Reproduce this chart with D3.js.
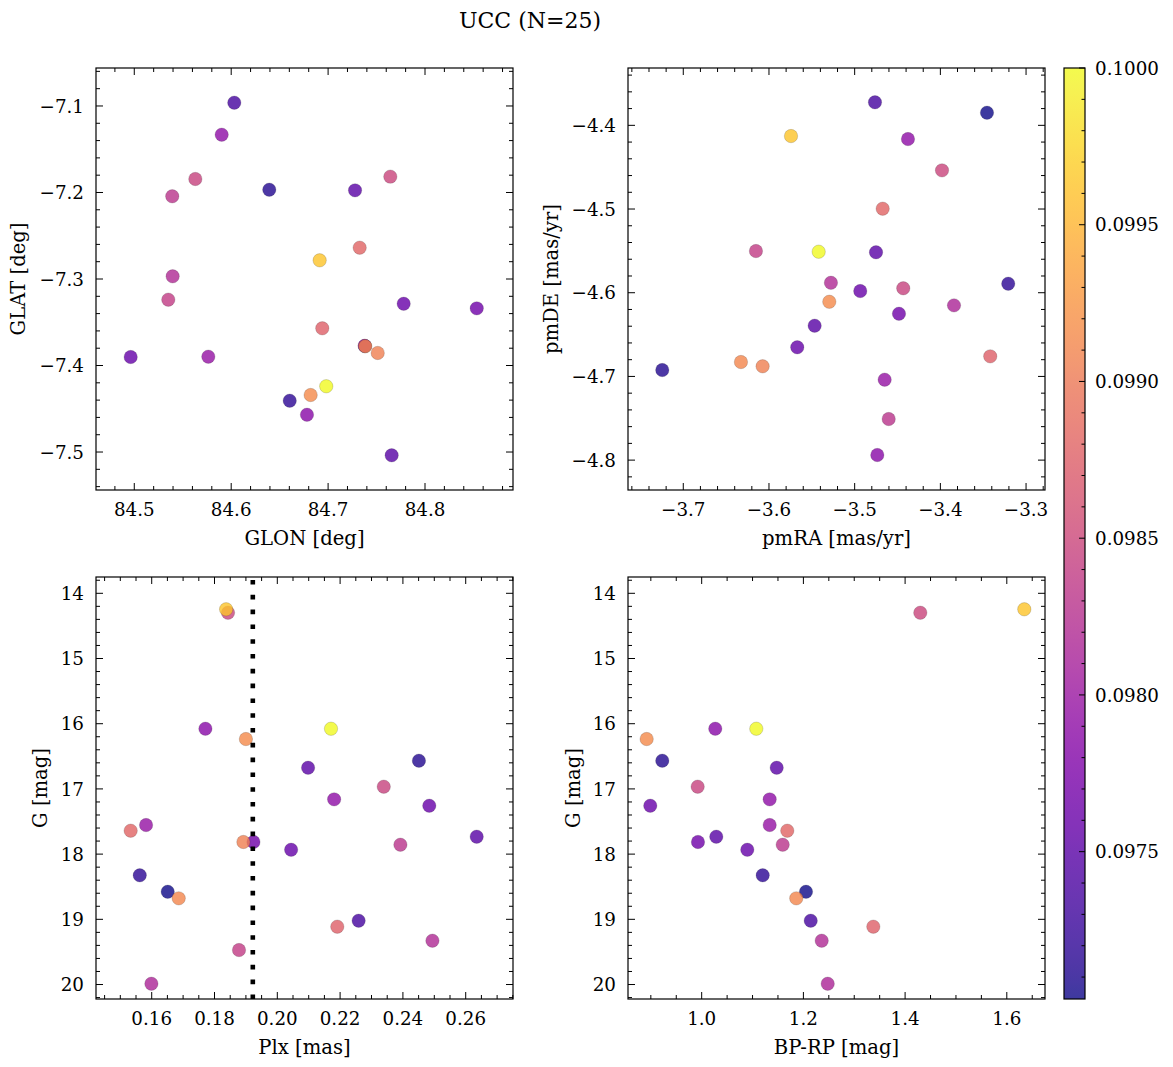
<!DOCTYPE html>
<html>
<head>
<meta charset="utf-8">
<script src="https://cdn.jsdelivr.net/npm/d3@7"></script>
<style>
  html, body { margin: 0; padding: 0; background: #fff; }
  svg { display: block; }
  text { font-family: "DejaVu Serif", serif; fill: #000; }
</style>
</head>
<body>
<svg id="chart" width="1173" height="1067"></svg>
<script>
// ---------------- data (25 stars) ----------------
const glon = [84.6913, 84.7642, 84.6782, 84.6820, 84.6981, 84.6393, 84.7278, 84.5630, 84.5902, 84.7780,
              84.5764, 84.7326, 84.7512, 84.8534, 84.4963, 84.5392, 84.7656, 84.6604, 84.7380, 84.7384,
              84.6032, 84.6940, 84.5396, 84.5351, 84.7377];
const glat = [-7.2784, -7.1817, -7.4569, -7.4341, -7.4240, -7.1968, -7.1975, -7.1844, -7.1332, -7.3286,
              -7.3898, -7.2638, -7.3855, -7.3339, -7.3902, -7.2044, -7.5038, -7.4407, -7.3775, -7.3778,
              -7.0962, -7.3570, -7.2969, -7.3239, -7.3772];
const pmra = [-3.5743, -3.3981, -3.4736, -3.5296, -3.5420, -3.7245, -3.4751, -3.4433, -3.4378, -3.4935,
              -3.4650, -3.4673, -3.6074, -3.4483, -3.5670, -3.4603, -3.5467, -3.3208, -3.3456, -3.6327,
              -3.4763, -3.3418, -3.5277, -3.6152, -3.3841];
const pmde = [-4.4128, -4.4538, -4.7939, -4.6108, -4.5510, -4.6924, -4.5517, -4.5947, -4.4164, -4.5980,
              -4.7039, -4.4996, -4.6879, -4.6251, -4.6652, -4.7509, -4.6394, -4.5892, -4.3849, -4.6828,
              -4.3725, -4.6760, -4.5881, -4.5502, -4.6151];
const plx  = [0.1837, 0.1843, 0.1771, 0.1900, 0.2171, 0.2451, 0.2098, 0.2339, 0.2181, 0.2484,
              0.1582, 0.1533, 0.1892, 0.1924, 0.2044, 0.2392, 0.2635, 0.1562, 0.1651, 0.1686,
              0.2259, 0.2191, 0.2494, 0.1878, 0.1599];
const gmag = [14.245, 14.298, 16.077, 16.235, 16.077, 16.567, 16.675, 16.966, 17.160, 17.258,
              17.554, 17.641, 17.814, 17.814, 17.933, 17.856, 17.733, 18.325, 18.577, 18.678,
              19.021, 19.113, 19.328, 19.471, 19.988];
const bprp = [1.6344, 1.4299, 1.0267, 0.8918, 1.1074, 0.9225, 1.1475, 0.9921, 1.1337, 0.8989,
              1.1337, 1.1683, null,   0.9927, 1.0897, 1.1593, 1.0287, 1.1200, 1.2051, 1.1860,
              1.2144, 1.3375, 1.2360, null,   1.2478];
const prob = [0.09962, 0.09848, 0.09785, 0.09915, 0.10000, 0.09712, 0.09750, 0.09845, 0.09790, 0.09760,
              0.09795, 0.09880, 0.09905, 0.09765, 0.09758, 0.09830, 0.09748, 0.09718, 0.09703, 0.09912,
              0.09735, 0.09875, 0.09820, 0.09838, 0.09815];
const plxLine = 0.1922;   // vertical dotted line in Plx panel

// axis limits & ticks
const limGLON = [84.4605, 84.8908], limGLAT = [-7.5439, -7.0561];
const limPMRA = [-3.7645, -3.2779], limPMDE = [-4.8357, -4.3315];
const limPLX  = [0.14226, 0.27506], limG    = [13.750, 20.222];
const limBPRP = [0.8551, 1.6751];
const ticksGLON = [84.5, 84.6, 84.7, 84.8], ticksGLAT = [-7.1, -7.2, -7.3, -7.4, -7.5];
const ticksPMRA = [-3.7, -3.6, -3.5, -3.4, -3.3], ticksPMDE = [-4.4, -4.5, -4.6, -4.7, -4.8];
const ticksPLX  = [0.16, 0.18, 0.20, 0.22, 0.24, 0.26], ticksG = [14, 15, 16, 17, 18, 19, 20];
const ticksBPRP = [1.0, 1.2, 1.4, 1.6];
const ticksCbar = [0.0975, 0.0980, 0.0985, 0.0990, 0.0995, 0.1000];

// ---------------- drawing ----------------
const svg = d3.select("#chart");
const FS = 18.3, LFS = 19.6;
const stars = d3.range(prob.length).map(i => ({
  glon: glon[i], glat: glat[i], pmra: pmra[i], pmde: pmde[i], plx: plx[i],
  g: gmag[i], bprp: bprp[i], prob: prob[i]
})).sort((a, b) => a.prob - b.prob);

const cdom = d3.extent(prob);
const color = d3.scaleSequential(d3.interpolatePlasma).domain(cdom);

function minorTicks(dom, step) {
  const lo = Math.min(...dom), hi = Math.max(...dom);
  const out = [];
  for (let k = Math.ceil(lo / step - 1e-9); k * step <= hi + 1e-12; k++) out.push(+(k * step).toFixed(6));
  return out;
}

function panel(cfg) {
  const {x0, y0, w, h, xdom, ydom, xticks, yticks, xminor, yminor, xfmt, yfmt, xkey, ykey, xlabel, ylabel, yinv} = cfg;
  const g = svg.append("g");
  const x = d3.scaleLinear().domain(xdom).range([x0, x0 + w]);
  const y = d3.scaleLinear().domain(ydom).range(yinv ? [y0, y0 + h] : [y0 + h, y0]);
  const maj = 7, mnr = 4;
  const tk = g.append("g").attr("stroke", "#000").attr("stroke-width", 1);
  minorTicks(xdom, xminor).forEach(v => {
    const isMaj = xticks.some(t => Math.abs(t - v) < xminor / 10);
    const L = isMaj ? maj : mnr, px = x(v);
    tk.append("line").attr("x1", px).attr("x2", px).attr("y1", y0 + h).attr("y2", y0 + h - L);
    tk.append("line").attr("x1", px).attr("x2", px).attr("y1", y0).attr("y2", y0 + L);
  });
  minorTicks(ydom, yminor).forEach(v => {
    const isMaj = yticks.some(t => Math.abs(t - v) < yminor / 10);
    const L = isMaj ? maj : mnr, py = y(v);
    tk.append("line").attr("y1", py).attr("y2", py).attr("x1", x0).attr("x2", x0 + L);
    tk.append("line").attr("y1", py).attr("y2", py).attr("x1", x0 + w).attr("x2", x0 + w - L);
  });
  xticks.forEach(v => {
    g.append("text").attr("x", x(v)).attr("y", y0 + h + 26).attr("text-anchor", "middle")
      .attr("font-size", FS).text(xfmt(v));
  });
  yticks.forEach(v => {
    g.append("text").attr("x", x0 - 12).attr("y", y(v)).attr("dy", "0.36em").attr("text-anchor", "end")
      .attr("font-size", FS).text(yfmt(v));
  });
  g.append("text").attr("x", x0 + w / 2).attr("y", y0 + h + 55).attr("text-anchor", "middle")
    .attr("font-size", LFS).text(xlabel);
  g.append("text").attr("transform", `translate(${cfg.ylabx},${y0 + h / 2}) rotate(-90)`)
    .attr("text-anchor", "middle").attr("dy", "0.36em").attr("font-size", LFS).text(ylabel);

  const pts = stars.filter(d => d[xkey] != null && d[ykey] != null);
  g.append("g").selectAll("circle").data(pts).join("circle")
    .attr("cx", d => x(d[xkey])).attr("cy", d => y(d[ykey])).attr("r", 6.7)
    .attr("fill", d => color(d.prob)).attr("fill-opacity", 0.8)
    .attr("stroke", "#222").attr("stroke-opacity", 0.35).attr("stroke-width", 0.5);

  if (cfg.vline != null) {
    g.append("line").attr("x1", x(cfg.vline)).attr("x2", x(cfg.vline))
      .attr("y1", y0 + h).attr("y2", y0)
      .attr("stroke", "#000").attr("stroke-width", 4.6).attr("stroke-dasharray", "4.6 10.2");
  }
  g.append("rect").attr("x", x0).attr("y", y0).attr("width", w).attr("height", h)
    .attr("fill", "none").attr("stroke", "#000").attr("stroke-width", 1.2);
}

const fmtMinus = f => v => d3.format(f)(v).replace("-", "\u2212");
const W = 417, H = 422;
panel({x0: 96, y0: 68, w: W, h: H, xdom: limGLON, ydom: limGLAT, xticks: ticksGLON, yticks: ticksGLAT,
  xminor: 0.02, yminor: 0.02, xfmt: fmtMinus(".1f"), yfmt: fmtMinus(".1f"), xkey: "glon", ykey: "glat",
  xlabel: "GLON [deg]", ylabel: "GLAT [deg]", ylabx: 18});
panel({x0: 628, y0: 68, w: W, h: H, xdom: limPMRA, ydom: limPMDE, xticks: ticksPMRA, yticks: ticksPMDE,
  xminor: 0.02, yminor: 0.02, xfmt: fmtMinus(".1f"), yfmt: fmtMinus(".1f"), xkey: "pmra", ykey: "pmde",
  xlabel: "pmRA [mas/yr]", ylabel: "pmDE [mas/yr]", ylabx: 551});
panel({x0: 96, y0: 577, w: W, h: H, xdom: limPLX, ydom: limG, xticks: ticksPLX, yticks: ticksG,
  xminor: 0.005, yminor: 0.2, xfmt: fmtMinus(".2f"), yfmt: fmtMinus("d"), xkey: "plx", ykey: "g",
  xlabel: "Plx [mas]", ylabel: "G [mag]", ylabx: 40, yinv: true, vline: plxLine});
panel({x0: 628, y0: 577, w: W, h: H, xdom: limBPRP, ydom: limG, xticks: ticksBPRP, yticks: ticksG,
  xminor: 0.05, yminor: 0.2, xfmt: fmtMinus(".1f"), yfmt: fmtMinus("d"), xkey: "bprp", ykey: "g",
  xlabel: "BP-RP [mag]", ylabel: "G [mag]", ylabx: 573, yinv: true});

// colorbar
const cbx = 1064, cbw = 21, cby = 68, cbh = 931;
const cy = d3.scaleLinear().domain(cdom).range([cby + cbh, cby]);
const defs = svg.append("defs");
const grad = defs.append("linearGradient").attr("id", "cbgrad").attr("x1", 0).attr("y1", 1).attr("x2", 0).attr("y2", 0);
d3.range(0, 1.0001, 0.02).forEach(t => {
  grad.append("stop").attr("offset", t).attr("stop-color", d3.interpolatePlasma(t)).attr("stop-opacity", 0.8);
});
svg.append("rect").attr("x", cbx).attr("y", cby).attr("width", cbw).attr("height", cbh).attr("fill", "url(#cbgrad)");
const cbt = svg.append("g").attr("stroke", "#000").attr("stroke-width", 1);
minorTicks(cdom, 0.0001).forEach(v => {
  const isMaj = ticksCbar.some(t => Math.abs(t - v) < 0.00001);
  cbt.append("line").attr("x1", cbx + cbw).attr("x2", cbx + cbw - (isMaj ? 6 : 3.5)).attr("y1", cy(v)).attr("y2", cy(v));
});
ticksCbar.forEach(v => {
  svg.append("text").attr("x", cbx + cbw + 10).attr("y", cy(v)).attr("dy", "0.36em").attr("font-size", FS).text(d3.format(".4f")(v));
});
svg.append("rect").attr("x", cbx).attr("y", cby).attr("width", cbw).attr("height", cbh)
  .attr("fill", "none").attr("stroke", "#000").attr("stroke-width", 1.2);

// title
svg.append("text").attr("x", 530).attr("y", 20).attr("dy", "0.36em").attr("text-anchor", "middle")
  .attr("font-size", 22).text("UCC (N=25)");
</script>
</body>
</html>
